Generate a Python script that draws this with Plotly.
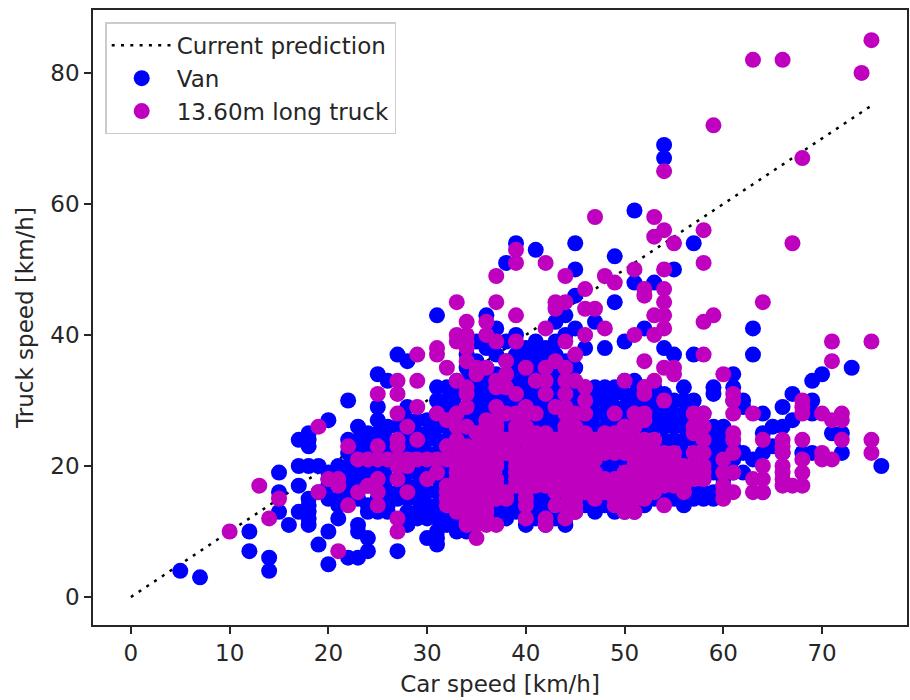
import plotly.graph_objects as go

prediction_x = [0, 75]
prediction_y = [0, 75]

van_car = [5, 7, 12, 14, 15, 16, 17, 18, 19, 20, 21, 22, 23, 24, 25, 26, 27, 28, 29, 30, 31, 32, 33, 34, 35, 36,
           37, 38, 39, 40, 41, 42, 43, 44, 45, 46, 47, 48, 49, 50, 51, 52, 53, 54, 55, 56, 57, 58, 59, 60, 61,
           62, 63, 64, 65, 66, 67, 68, 69, 70, 71, 72, 73, 76]
van_truck = [
    [4], [3], [10, 7], [6, 4], [19, 16, 13], [11], [24, 20, 17, 13],
    [25, 24, 23, 20, 15, 14, 13, 12, 11], [20, 16, 8], [27, 19, 18, 17, 15, 10, 5],
    [20, 19, 17, 15, 14, 12], [30, 24, 22, 20, 19, 18, 16, 6], [26, 24, 22, 20, 18, 17, 15, 11, 10, 6],
    [25, 23, 21, 19, 17, 14, 13, 9, 7], [34, 29, 27, 25, 23, 22, 20, 19, 17, 15, 14, 13],
    [33, 26, 24, 22, 20, 18, 16, 14, 13], [37, 26, 24, 22, 20, 18, 16, 15, 7],
    [36, 29, 27, 25, 23, 21, 19, 17, 15, 13, 11], [27, 25, 23, 21, 19, 17, 15, 13, 12],
    [27, 25, 24, 22, 20, 18, 16, 14, 13, 12, 9],
    [43, 32, 30, 28, 26, 24, 22, 20, 18, 16, 14, 12, 10, 9, 8],
    [32, 30, 28, 26, 24, 22, 20, 18, 17, 16, 15, 14, 13, 12, 11],
    [33, 31, 29, 27, 25, 23, 21, 19, 17, 16, 15, 14, 13, 12, 11, 10],
    [37, 35, 33, 31, 29, 27, 25, 23, 21, 19, 17, 15, 14, 13, 12, 11, 10],
    [39, 36, 34, 32, 30, 28, 26, 24, 22, 20, 18, 16, 15, 14, 13, 12],
    [43, 38, 35, 33, 31, 29, 27, 25, 23, 21, 19, 17, 15, 14, 13, 12],
    [41, 37, 34, 32, 30, 28, 26, 24, 22, 20, 18, 16, 15, 14, 13],
    [51, 39, 36, 34, 32, 30, 28, 26, 24, 22, 20, 18, 16, 14, 13, 12],
    [54, 40, 37, 35, 33, 31, 29, 27, 25, 23, 21, 19, 17, 15, 14, 13],
    [38, 36, 34, 32, 30, 28, 26, 24, 22, 20, 18, 16, 15, 14, 13, 12, 11],
    [53, 39, 37, 35, 33, 31, 29, 27, 25, 23, 21, 19, 17, 15, 14, 13, 12],
    [38, 36, 34, 32, 30, 28, 26, 24, 22, 20, 18, 16, 14, 13, 12, 11],
    [42, 39, 37, 35, 33, 31, 29, 27, 25, 23, 21, 19, 17, 15, 14, 13, 12],
    [43, 40, 36, 34, 32, 30, 28, 26, 24, 22, 20, 18, 16, 14, 13, 12, 11],
    [54, 50, 46, 41, 35, 32, 30, 28, 26, 24, 22, 20, 18, 16, 15, 14, 13],
    [38, 32, 31, 29, 27, 25, 23, 21, 19, 17, 15, 14],
    [42, 32, 31, 30, 28, 26, 24, 22, 20, 18, 16, 14, 13],
    [38, 32, 30, 28, 26, 24, 22, 20, 18, 16, 15, 14],
    [52, 45, 32, 31, 29, 27, 25, 23, 21, 19, 17, 15, 14, 13],
    [39, 33, 31, 29, 27, 25, 23, 21, 19, 17, 15, 14, 13],
    [59, 48, 33, 31, 30, 28, 26, 24, 22, 20, 18, 16, 15, 14, 13],
    [41, 32, 30, 28, 26, 24, 22, 20, 18, 16, 15, 14],
    [48, 32, 30, 28, 26, 24, 22, 20, 18, 16, 15],
    [69, 67, 38, 31, 28, 27, 26, 24, 22, 20, 18, 16, 15],
    [50, 37, 30, 28, 27, 26, 24, 22, 20, 18, 16, 15],
    [32, 30, 28, 27, 26, 24, 22, 20, 18, 16, 15, 14],
    [54, 37, 30, 28, 26, 24, 22, 20, 18, 16, 15],
    [28, 26, 24, 22, 20, 18, 16, 15],
    [32, 31, 26, 25, 24, 23, 22, 21, 20, 19, 16, 15],
    [26, 24, 22, 20, 18, 17],
    [34, 32, 30, 23, 21, 19],
    [30, 29, 22, 19],
    [41, 37, 21],
    [28, 25, 22, 16],
    [26, 23],
    [29, 26, 22],
    [31, 27],
    [22],
    [33, 30, 28, 22],
    [34],
    [25],
    [25, 22],
    [35],
    [20],
]

truck_car = [10, 13, 14, 15, 19, 20, 21, 22, 23, 24, 25, 26, 27, 28, 29, 30, 31, 32, 33, 34, 35, 36, 37, 38, 39,
             40, 41, 42, 43, 44, 45, 46, 47, 48, 49, 50, 51, 52, 53, 54, 55, 56, 57, 58, 59, 60, 61, 63, 64,
             66, 67, 68, 70, 71, 72, 74, 75]
truck_truck = [
    [10], [17], [12], [15], [26, 16], [18], [18, 17, 7], [23, 14], [21, 16], [21, 17],
    [31, 23, 21, 18, 16, 14], [21],
    [33, 31, 28, 24, 23, 21, 20, 18, 12, 10], [26, 21, 20, 16],
    [37, 33, 29, 24, 21], [21, 18],
    [38, 37, 28, 21, 19], [35, 27, 23, 21, 17, 16, 15, 14],
    [45, 40, 39, 33, 28, 26, 24, 23, 21, 20, 19, 18, 17, 16, 15, 14, 13],
    [42, 40, 39, 38, 36, 32, 31, 29, 26, 23, 22, 21, 20, 19, 18, 17, 16, 15, 14, 12, 11],
    [35, 34, 25, 23, 21, 20, 19, 18, 17, 16, 15, 14, 13, 12, 11, 9],
    [42, 40, 35, 27, 26, 24, 22, 21, 20, 19, 18, 17, 16, 15, 14, 13, 12, 11],
    [49, 45, 39, 33, 32, 29, 27, 26, 25, 23, 22, 21, 20, 18, 17, 15, 11],
    [36, 34, 32, 28, 24, 23, 22, 16, 15],
    [53, 51, 43, 39, 31, 28, 26, 25, 24, 22, 21, 20, 19, 18, 17],
    [35, 29, 28, 26, 25, 24, 22, 21, 20, 19, 18, 17, 16, 15, 14, 12],
    [33, 28, 25, 24, 23, 22, 21, 20, 19, 18, 17],
    [51, 41, 35, 33, 31, 25, 24, 23, 22, 21, 20, 19, 18, 17, 12, 11],
    [45, 44, 36, 29, 24, 23, 22, 21, 20, 19, 18, 17, 16, 14],
    [49, 45, 39, 35, 33, 31, 29, 28, 26, 25, 24, 23, 22, 21, 20, 19, 18, 17, 16, 14, 12],
    [37, 33, 28, 26, 25, 24, 23, 22, 21, 20, 19, 18, 17, 16, 15, 14, 13],
    [47, 44, 40, 32, 30, 28, 25, 23, 22, 21, 20, 19, 18, 17, 16],
    [58, 44, 24, 23, 22, 21, 19, 18, 17, 15],
    [49, 41, 25, 24, 23, 22, 18, 17, 16],
    [48, 28, 25, 24, 23, 22, 18, 17, 16, 15, 14],
    [33, 26, 25, 24, 23, 22, 19, 18, 17, 16, 14, 13],
    [50, 40, 28, 26, 24, 23, 22, 21, 20, 19, 18, 17, 16, 15, 13],
    [47, 46, 36, 32, 31, 28, 27, 24, 23, 22, 21, 20, 19, 18, 17, 16, 15],
    [58, 55, 43, 40, 33, 24, 22, 21, 20, 19, 18, 17, 16],
    [65, 56, 50, 47, 45, 43, 41, 35, 30, 22, 21, 20, 19, 18, 17, 14],
    [54, 35, 34, 22, 21, 20, 19, 18, 17],
    [20, 19, 18, 17, 16],
    [28, 26, 25, 22, 20, 18],
    [56, 51, 42, 37, 28, 26, 24, 22, 20, 19, 18],
    [72, 43],
    [34, 21, 19, 17, 16, 15],
    [31, 30, 28, 25, 24, 22, 19, 16],
    [82, 28, 18, 16],
    [45, 24, 20, 18, 16],
    [82, 24, 23, 22, 20, 19, 18, 17],
    [54, 17],
    [67, 30, 29, 28, 24, 21, 19, 17],
    [28, 22, 21],
    [39, 36, 27, 21],
    [28, 27, 24],
    [80],
    [85, 39, 24, 22],
]


def flatten(cars, trucks):
    xs, ys = [], []
    for car, column in zip(cars, trucks):
        for truck in column:
            xs.append(car)
            ys.append(truck)
    return xs, ys


vx, vy = flatten(van_car, van_truck)
tx, ty = flatten(truck_car, truck_truck)

FONT = "DejaVu Sans"
INK = "#262626"
SIZE = 23

fig = go.Figure()
fig.add_trace(go.Scatter(x=prediction_x, y=prediction_y, mode="lines", name="Current prediction",
                         line=dict(color="black", dash="3px,6.3px", width=2.5)))
fig.add_trace(go.Scatter(x=vx, y=vy, mode="markers", name="Van",
                         marker=dict(color="#0000ff", size=16, line=dict(width=0))))
fig.add_trace(go.Scatter(x=tx, y=ty, mode="markers", name="13.60m long truck",
                         marker=dict(color="#bf00bf", size=16, line=dict(width=0))))

axis = dict(showgrid=False, zeroline=False, showline=True, mirror=True, linecolor=INK, linewidth=1.5,
            ticks="outside", ticklen=7, tickwidth=1.5, tickcolor=INK,
            tickfont=dict(family=FONT, size=SIZE, color=INK))

fig.update_layout(
    width=910, height=700, margin=dict(l=93, r=1, t=10, b=75),
    paper_bgcolor="white", plot_bgcolor="white", font=dict(family=FONT, size=SIZE, color=INK),
    xaxis=dict(axis, range=[-3.84, 78.6], tickvals=[0, 10, 20, 30, 40, 50, 60, 70],
               title=dict(text="Car speed [km/h]", font=dict(family=FONT, size=SIZE, color=INK), standoff=11)),
    yaxis=dict(axis, range=[-4.27, 89.6], tickvals=[0, 20, 40, 60, 80],
               title=dict(text="Truck speed [km/h]", font=dict(family=FONT, size=SIZE, color=INK), standoff=10)),
    legend=dict(x=0.015, y=0.98, xanchor="left", yanchor="top", bgcolor="rgba(255,255,255,0.85)",
                bordercolor="#cccccc", borderwidth=1.5, font=dict(family=FONT, size=SIZE, color=INK),
                itemsizing="trace", itemwidth=60),
    showlegend=True,
)
fig.write_html("out.html", post_script="document.body.style.margin='0';",
               config=dict(displayModeBar=False))
